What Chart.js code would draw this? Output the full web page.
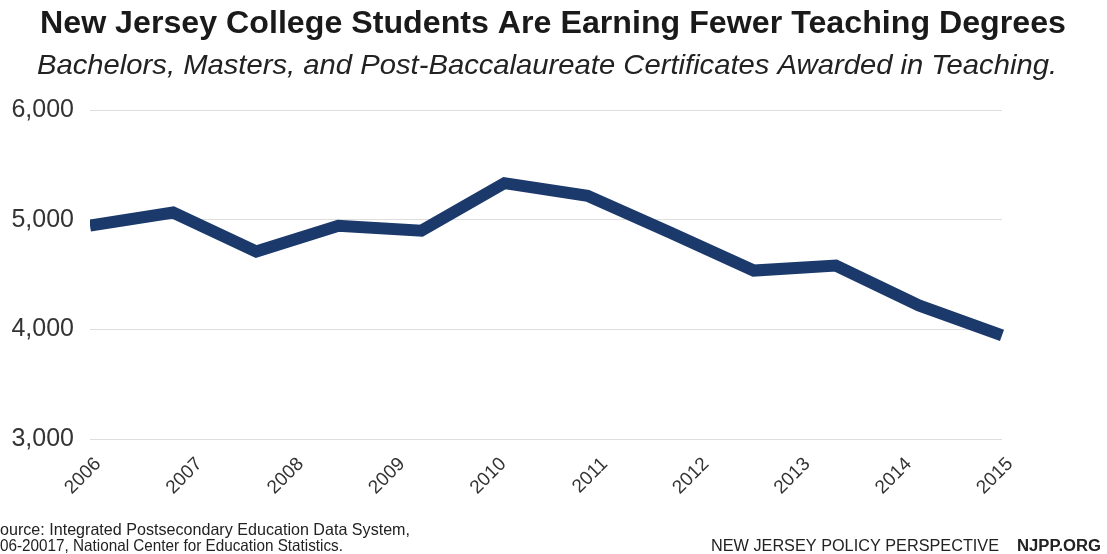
<!DOCTYPE html>
<html>
<head>
<meta charset="utf-8">
<script src="https://cdn.jsdelivr.net/npm/chart.js@4/dist/chart.umd.min.js"></script>
<style>
  html, body { margin: 0; padding: 0; background: #fff; }
  #wrap { width: 1107px; height: 554px; position: relative; }
</style>
</head>
<body>
<div id="wrap"><canvas id="grafico" width="1107" height="554"></canvas></div>
<script>
// degrees awarded, twelve readings spread over 2006-2015
const anios = [2006, 2006.82, 2007.64, 2008.45, 2009.27, 2010.09, 2010.91, 2011.73, 2012.55, 2013.36, 2014.18, 2015];
const titulos = [4945, 5065, 4710, 4945, 4900, 5333, 5218, 4880, 4536, 4582, 4218, 3945];
const marcasAnio = [2006, 2007, 2008, 2009, 2010, 2011, 2012, 2013, 2014, 2015];
const marcasValor = [3000, 4000, 5000, 6000];

const titulo = "New Jersey College Students Are Earning Fewer Teaching Degrees";
const subtitulo = "Bachelors, Masters, and Post-Baccalaureate Certificates Awarded in Teaching.";
const fuente = ["Source: Integrated Postsecondary Education Data System,", "2006-20017, National Center for Education Statistics."];

// draws text squeezed or stretched to a given width
function textoAjustado(ctx, texto, x, y, ancho) {
    const medido = ctx.measureText(texto).width;
    ctx.save();
    ctx.translate(x, y);
    ctx.scale(ancho / medido, 1);
    ctx.fillText(texto, 0, 0);
    ctx.restore();
}

const textos = {
    id: 'textos',
    afterDraw(chart) {
        const ctx = chart.ctx;
        ctx.save();
        ctx.textBaseline = 'alphabetic';
        ctx.textAlign = 'left';

        ctx.fillStyle = '#1a1a1a';
        ctx.font = 'bold 31px "Liberation Sans", Arial, sans-serif';
        textoAjustado(ctx, titulo, 40, 33, 1026);

        ctx.fillStyle = '#222';
        ctx.font = 'italic 28px "Liberation Sans", Arial, sans-serif';
        textoAjustado(ctx, subtitulo, 37, 74, 1020);

        // source lines run off the left edge
        ctx.fillStyle = '#222';
        ctx.font = '16.5px "Liberation Sans", Arial, sans-serif';
        textoAjustado(ctx, fuente[0].slice(1), 0, 535, 410);
        textoAjustado(ctx, fuente[1].slice(2), 0, 551, 343);

        ctx.font = '16px "Liberation Sans", Arial, sans-serif';
        textoAjustado(ctx, "NEW JERSEY POLICY PERSPECTIVE", 711, 551, 288);
        ctx.font = 'bold 16px "Liberation Sans", Arial, sans-serif';
        textoAjustado(ctx, "NJPP.ORG", 1017, 551, 84);
        ctx.restore();
    }
};

const ctx = document.getElementById('grafico').getContext('2d');

new Chart(ctx, {
    type: 'line',
    data: {
        datasets: [{
            data: anios.map((a, i) => ({ x: a, y: titulos[i] })),
            borderColor: '#1b3a6b',
            borderWidth: 12,
            borderJoinStyle: 'miter',
            borderCapStyle: 'butt',
            pointRadius: 0,
            tension: 0,
            clip: { left: 0, right: 12, top: 12, bottom: 12 }
        }]
    },
    options: {
        responsive: false,
        animation: false,
        layout: { padding: { top: 110, right: 105, bottom: 0, left: 0 } },
        plugins: {
            legend: { display: false },
            tooltip: { enabled: false }
        },
        scales: {
            x: {
                type: 'linear',
                min: 2006,
                max: 2015,
                afterBuildTicks: scale => { scale.ticks = marcasAnio.map(v => ({ value: v })); },
                afterFit: scale => { scale.height = 115; },
                grid: { display: false },
                border: { display: false },
                ticks: {
                    minRotation: 45,
                    maxRotation: 45,
                    labelOffset: 8,
                    padding: 6,
                    color: '#333',
                    font: { family: '"Liberation Sans", Arial, sans-serif', size: 19 },
                    callback: v => String(v)
                }
            },
            y: {
                min: 3000,
                max: 6000,
                afterBuildTicks: scale => { scale.ticks = marcasValor.map(v => ({ value: v })); },
                afterFit: scale => { scale.width = 90; },
                grid: { color: '#dedede', lineWidth: 1, drawTicks: false },
                border: { display: false },
                ticks: {
                    padding: 16,
                    color: '#333',
                    font: { family: '"Liberation Sans", Arial, sans-serif', size: 25 },
                    callback: v => v.toLocaleString('en-US')
                }
            }
        }
    },
    plugins: [textos]
});
</script>
</body>
</html>
